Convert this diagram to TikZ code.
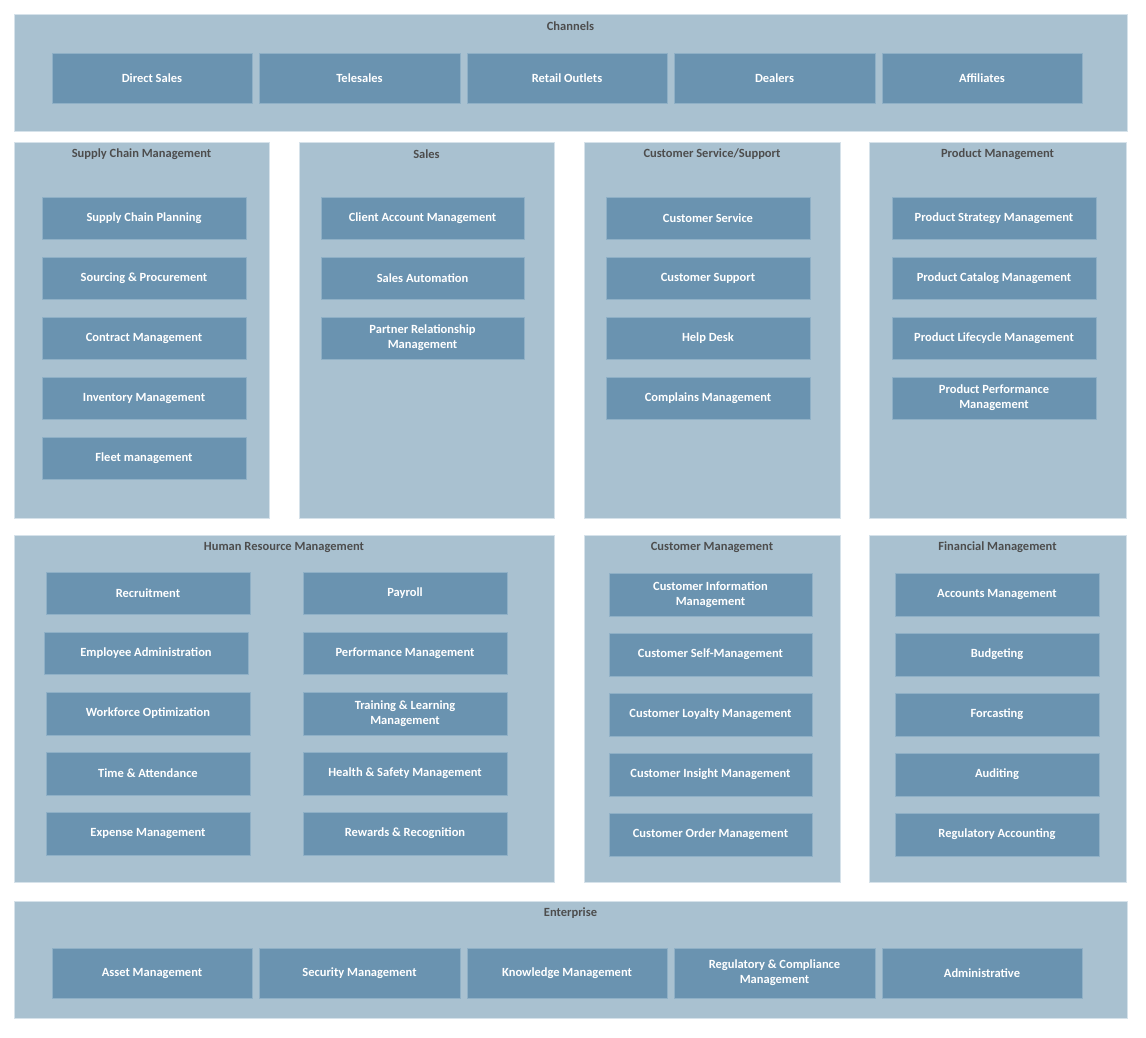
\documentclass[tikz,border=0pt]{standalone}
\usepackage{fontspec}
\setmainfont{Carlito}
\definecolor{outer}{HTML}{A9C1D0}
\definecolor{outerb}{HTML}{D6E2EA}
\definecolor{inner}{HTML}{6A93B0}
\definecolor{innerb}{HTML}{8FB0C6}
\definecolor{ttl}{HTML}{4D4D4D}
\tikzset{
  grp/.style={fill=outer,draw=outerb,line width=1pt},
  itm/.style={fill=inner,draw=innerb,line width=1pt},
  itxt/.style={text=white,font=\bfseries\fontsize{12.5}{15}\selectfont,align=center},
  gtxt/.style={text=ttl,font=\bfseries\fontsize{12.5}{15}\selectfont}
}
\newcommand{\grpbox}[6]{% name x1 y1 x2 y2 title ; title at y1+12
  \draw[grp] (#2,#3) rectangle (#4,#5);
  \node[gtxt] (#1) at ({(#2+#4)/2},#3+12) {#6};}
\newcommand{\itbox}[6]{%
  \draw[itm] (#2,#3) rectangle (#4,#5);
  \node[itxt] (#1) at ({(#2+#4)/2},{(#3+#5)/2}) {#6};}
\begin{document}
\begin{tikzpicture}[x=1pt,y=-1pt]
\useasboundingbox (0,0) rectangle (1146,1037);
\fill[white] (0,0) rectangle (1146,1037);
% Channels
\grpbox{gch}{14}{14}{1127}{131}{Channels}
\itbox{c1}{52}{53}{252}{103}{Direct Sales}
\itbox{c2}{259}{53}{460}{103}{Telesales}
\itbox{c3}{467}{53}{667}{103}{Retail Outlets}
\itbox{c4}{674}{53}{875}{103}{Dealers}
\itbox{c5}{882}{53}{1082}{103}{Affiliates}
% SCM
\grpbox{gscm}{14}{142}{269}{518}{Supply Chain Management}
\itbox{s1}{42}{197}{246}{239}{Supply Chain Planning}
\itbox{s2}{42}{257}{246}{299}{Sourcing \& Procurement}
\itbox{s3}{42}{317}{246}{359}{Contract Management}
\itbox{s4}{42}{377}{246}{419}{Inventory Management}
\itbox{s5}{42}{437}{246}{479}{Fleet management}
% Sales
\grpbox{gsal}{299}{142}{554}{518}{Sales}
\itbox{sa1}{321}{197}{524}{239}{Client Account Management}
\itbox{sa2}{321}{257}{524}{299}{Sales Automation}
\itbox{sa3}{321}{317}{524}{359}{Partner Relationship\\Management}
% CS
\grpbox{gcs}{584}{142}{840}{518}{Customer Service/Support}
\itbox{cs1}{606}{197}{810}{239}{Customer Service}
\itbox{cs2}{606}{257}{810}{299}{Customer Support}
\itbox{cs3}{606}{317}{810}{359}{Help Desk}
\itbox{cs4}{606}{377}{810}{419}{Complains Management}
% PM
\grpbox{gpm}{869}{142}{1126}{518}{Product Management}
\itbox{p1}{892}{197}{1096}{239}{Product Strategy Management}
\itbox{p2}{892}{257}{1096}{299}{Product Catalog Management}
\itbox{p3}{892}{317}{1096}{359}{Product Lifecycle Management}
\itbox{p4}{892}{377}{1096}{419}{Product Performance\\Management}
% HRM
\grpbox{ghr}{14}{535}{554}{882}{Human Resource Management}
\itbox{h1}{46}{572}{250}{614}{Recruitment}
\itbox{h2}{44}{632}{248}{674}{Employee Administration}
\itbox{h3}{46}{692}{250}{735}{Workforce Optimization}
\itbox{h4}{46}{752}{250}{795}{Time \& Attendance}
\itbox{h5}{46}{812}{250}{855}{Expense Management}
\itbox{h6}{303}{572}{507}{614}{Payroll}
\itbox{h7}{303}{632}{507}{674}{Performance Management}
\itbox{h8}{303}{692}{507}{735}{Training \& Learning\\Management}
\itbox{h9}{303}{752}{507}{795}{Health \& Safety Management}
\itbox{h10}{303}{812}{507}{855}{Rewards \& Recognition}
% CM
\grpbox{gcm}{584}{535}{840}{882}{Customer Management}
\itbox{cm1}{609}{573}{812}{616}{Customer Information\\Management}
\itbox{cm2}{609}{633}{812}{676}{Customer Self-Management}
\itbox{cm3}{609}{693}{812}{736}{Customer Loyalty Management}
\itbox{cm4}{609}{753}{812}{796}{Customer Insight Management}
\itbox{cm5}{609}{813}{812}{856}{Customer Order Management}
% FM
\grpbox{gfm}{869}{535}{1126}{882}{Financial Management}
\itbox{f1}{895}{573}{1099}{616}{Accounts Management}
\itbox{f2}{895}{633}{1099}{676}{Budgeting}
\itbox{f3}{895}{693}{1099}{736}{Forcasting}
\itbox{f4}{895}{753}{1099}{796}{Auditing}
\itbox{f5}{895}{813}{1099}{856}{Regulatory Accounting}
% Enterprise
\grpbox{gen}{14}{901}{1127}{1018}{Enterprise}
\itbox{e1}{52}{948}{252}{998}{Asset Management}
\itbox{e2}{259}{948}{460}{998}{Security Management}
\itbox{e3}{467}{948}{667}{998}{Knowledge Management}
\itbox{e4}{674}{948}{875}{998}{Regulatory \& Compliance\\Management}
\itbox{e5}{882}{948}{1082}{998}{Administrative}
\end{tikzpicture}
\end{document}
